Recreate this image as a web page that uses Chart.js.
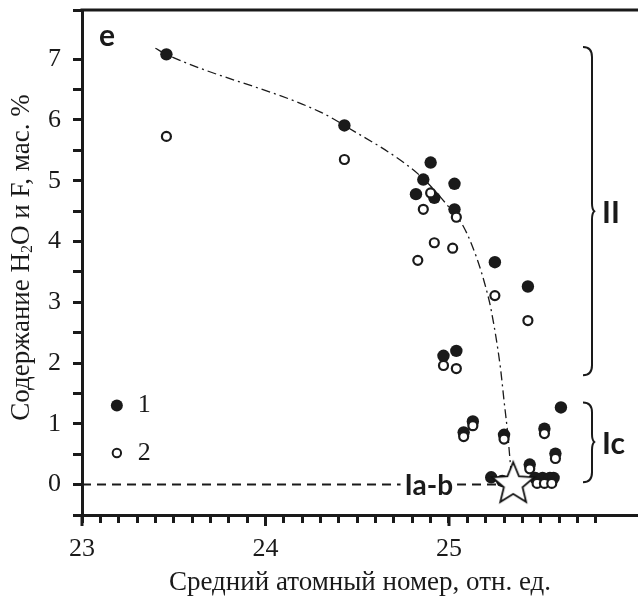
<!DOCTYPE html>
<html>
<head>
<meta charset="utf-8">
<script src="https://cdn.jsdelivr.net/npm/chart.js@4/dist/chart.umd.min.js"></script>
<style>
  html, body { margin: 0; padding: 0; background: #fff; overflow: hidden; }
  #wrap { width: 638px; height: 596px; position: relative; }
</style>
</head>
<body>
<div id="wrap"><canvas id="chart"></canvas></div>
<script>
// --- data ---
const filledX = [23.46, 24.43, 24.90, 24.86, 24.82, 24.92, 25.03, 25.03, 25.25, 25.43, 24.97, 25.04, 25.61, 25.13, 25.08, 25.30, 25.52, 25.58, 25.44, 25.23, 25.29, 25.47, 25.51, 25.55, 25.57];
const filledY = [7.08, 5.91, 5.30, 5.02, 4.78, 4.72, 4.95, 4.53, 3.66, 3.26, 2.12, 2.20, 1.27, 1.04, 0.86, 0.82, 0.92, 0.51, 0.33, 0.12, 0.06, 0.11, 0.11, 0.11, 0.11];

const openX = [23.46, 24.43, 24.90, 24.86, 25.04, 24.92, 25.02, 24.83, 25.25, 25.43, 24.97, 25.04, 25.13, 25.08, 25.30, 25.52, 25.58, 25.44, 25.48, 25.52, 25.56];
const openY = [5.73, 5.35, 4.80, 4.53, 4.40, 3.98, 3.89, 3.69, 3.11, 2.70, 1.96, 1.91, 0.97, 0.79, 0.75, 0.84, 0.43, 0.26, 0.02, 0.02, 0.02];

const trendX = [23.40, 23.46, 24.30, 24.43, 24.84, 24.99, 25.08, 25.15, 25.20, 25.23, 25.28, 25.30, 25.32, 25.34, 25.35];
const trendY = [7.18, 7.08, 6.13, 5.91, 5.09, 4.60, 4.24, 3.74, 3.25, 2.87, 1.93, 1.38, 0.84, 0.18, 0.04];

const zeroX = [23.0, 25.3];
const zeroY = [0, 0];

const starX = [25.35];
const starY = [0.04];

const xMajor = [23, 24, 25];
const yMajor = [0, 1, 2, 3, 4, 5, 6, 7];

const legendItems = [
  { label: '1', y: 1.3, filled: true },
  { label: '2', y: 0.52, filled: false }
];
const legendX = 23.19;

const groups = [
  { label: 'II', top: 7.2, tip: 4.5, bottom: 1.8 },
  { label: 'Ic', top: 1.35, tip: 0.7, bottom: 0.04 }
];

const serif = 'Liberation Serif';
const toPts = (xs, ys) => xs.map((x, i) => ({ x: x, y: ys[i] }));
const isMajor = (v, list) => list.some(m => Math.abs(m - v) < 1e-6);

// white five-pointed star used as the point style
function makeStar() {
  const c = document.createElement('canvas');
  c.width = 50; c.height = 50;
  const g = c.getContext('2d');
  const R = 22, r = 9.8, cx = 25, cy = 27;
  g.beginPath();
  for (let i = 0; i < 10; i++) {
    const rad = i % 2 === 0 ? R : r;
    const a = -Math.PI / 2 + i * Math.PI / 5;
    const px = cx + rad * Math.cos(a), py = cy + rad * Math.sin(a);
    if (i === 0) g.moveTo(px, py); else g.lineTo(px, py);
  }
  g.closePath();
  g.fillStyle = '#fff';
  g.fill();
  g.lineWidth = 1.8;
  g.strokeStyle = '#111';
  g.lineJoin = 'miter';
  g.stroke();
  return c;
}

function brace(ctx, x, yTop, yTip, yBot, w) {
  // "}" shape: ends curl left, tip points right
  ctx.beginPath();
  ctx.moveTo(x - w, yTop);
  ctx.quadraticCurveTo(x, yTop, x, yTop + 10);
  ctx.lineTo(x, yTip - 8);
  ctx.quadraticCurveTo(x, yTip - 2, x + w * 0.25, yTip);
  ctx.quadraticCurveTo(x, yTip + 2, x, yTip + 8);
  ctx.lineTo(x, yBot - 10);
  ctx.quadraticCurveTo(x, yBot, x - w, yBot);
  ctx.stroke();
}

const decor = {
  id: 'decor',
  afterDraw(chart) {
    const ctx = chart.ctx;
    const a = chart.chartArea;
    const xs = chart.scales.x, ys = chart.scales.y;
    ctx.save();
    ctx.fillStyle = '#1a1a1a';
    ctx.strokeStyle = '#1a1a1a';

    // frame line along the top of the plot
    ctx.fillRect(a.left - 1.5, a.top - 1.5, chart.width - a.left + 1.5, 3);

    // longer ticks at the labelled x values
    ctx.lineWidth = 3;
    xMajor.forEach(v => {
      const px = xs.getPixelForValue(v);
      ctx.beginPath();
      ctx.moveTo(px, a.bottom);
      ctx.lineTo(px, a.bottom + 11);
      ctx.stroke();
    });

    // panel letter
    ctx.font = 'bold 30px Lato';
    ctx.textAlign = 'center';
    ctx.textBaseline = 'middle';
    ctx.fillText('e', 107, 36);

    // "Ia-b" label over the dashed zero line
    const lx = xs.getPixelForValue(24.89), ly = ys.getPixelForValue(0);
    ctx.font = 'bold 28px Lato';
    const tw = ctx.measureText('Ia-b').width;
    ctx.fillStyle = '#fff';
    ctx.fillRect(lx - tw / 2 - 4, ly - 14, tw + 8, 28);
    ctx.fillStyle = '#1a1a1a';
    ctx.fillText('Ia-b', lx, ly + 1);

    // braces with group labels
    ctx.lineWidth = 2;
    groups.forEach(gp => {
      const yT = ys.getPixelForValue(gp.top);
      const yM = ys.getPixelForValue(gp.tip);
      const yB = ys.getPixelForValue(gp.bottom);
      brace(ctx, 592, yT, yM, yB, 9);
      ctx.font = 'bold 30px Lato';
      ctx.textAlign = 'left';
      ctx.fillText(gp.label, 602, yM + 2);
    });

    // in-plot legend
    legendItems.forEach(it => {
      const px = xs.getPixelForValue(legendX), py = ys.getPixelForValue(it.y);
      ctx.beginPath();
      if (it.filled) {
        ctx.arc(px, py, 6, 0, Math.PI * 2);
        ctx.fillStyle = '#1a1a1a';
        ctx.fill();
      } else {
        ctx.arc(px, py, 4.2, 0, Math.PI * 2);
        ctx.fillStyle = '#fff';
        ctx.fill();
        ctx.lineWidth = 2;
        ctx.stroke();
      }
      ctx.fillStyle = '#1a1a1a';
      ctx.font = '26px "' + serif + '"';
      ctx.textAlign = 'left';
      ctx.fillText(it.label, px + 21, py);
    });

    // y-axis title with subscript
    ctx.translate(22, (a.top + a.bottom) / 2 - 5);
    ctx.rotate(-Math.PI / 2);
    const parts = [
      { t: 'Содержание H', f: '27px "' + serif + '"', dy: 0 },
      { t: '2', f: '16px "' + serif + '"', dy: 6 },
      { t: 'O и F, мас. %', f: '27px "' + serif + '"', dy: 0 }
    ];
    let total = 0;
    parts.forEach(p => { ctx.font = p.f; p.w = ctx.measureText(p.t).width; total += p.w; });
    let cx = -total / 2;
    ctx.textAlign = 'left';
    parts.forEach(p => {
      ctx.font = p.f;
      ctx.fillText(p.t, cx, p.dy);
      cx += p.w;
    });
    ctx.restore();
  }
};

new Chart(document.getElementById('chart'), {
  type: 'scatter',
  data: {
    datasets: [
      { data: toPts(starX, starY), pointStyle: makeStar(), pointRadius: 20, order: 0 },
      { data: toPts(openX, openY), pointRadius: 4.5, borderWidth: 2.2, borderColor: '#1a1a1a', backgroundColor: '#fff', order: 1 },
      { data: toPts(filledX, filledY), pointRadius: 6.2, borderWidth: 0, backgroundColor: '#1a1a1a', order: 2 },
      { data: toPts(trendX, trendY), showLine: true, pointRadius: 0, borderColor: '#1a1a1a', borderWidth: 1.3,
        borderDash: [9, 4, 2, 4], cubicInterpolationMode: 'monotone', order: 3 },
      { data: toPts(zeroX, zeroY), showLine: true, pointRadius: 0, borderColor: '#1a1a1a', borderWidth: 2,
        borderDash: [9, 6], order: 4 }
    ]
  },
  options: {
    responsive: true,
    maintainAspectRatio: false,
    animation: false,
    events: [],
    layout: { autoPadding: false, padding: { top: 10, right: 0, left: 0, bottom: 0 } },
    plugins: { legend: { display: false }, tooltip: { enabled: false } },
    scales: {
      x: {
        type: 'linear', min: 23, max: 26.03,
        afterFit: s => { s.height = 81; s.paddingLeft = 0; s.paddingRight = 0; },
        afterBuildTicks: s => { s.ticks = s.ticks.filter(t => t.value <= 25.81); },
        border: { display: true, color: '#1a1a1a', width: 3 },
        grid: { drawOnChartArea: false, drawTicks: true, tickLength: 8, tickWidth: 3, tickColor: '#1a1a1a' },
        ticks: {
          stepSize: 0.1, autoSkip: false, maxRotation: 0, padding: 11, color: '#1a1a1a',
          font: { family: serif, size: 26 },
          callback: v => isMajor(v, xMajor) ? String(Math.round(v)) : ''
        },
        title: { display: true, text: 'Средний атомный номер, отн. ед.', color: '#1a1a1a',
          font: { family: serif, size: 27, lineHeight: 1 }, padding: { top: 0, bottom: 0 } }
      },
      y: {
        type: 'linear', min: -0.5, max: 7.81,
        afterFit: s => { s.width = 82; s.paddingTop = 0; s.paddingBottom = 0; },
        border: { display: true, color: '#1a1a1a', width: 3 },
        grid: { drawOnChartArea: false, drawTicks: true, tickLength: 9, tickWidth: 3, tickColor: '#1a1a1a' },
        ticks: {
          stepSize: 0.5, autoSkip: false, padding: 12, color: '#1a1a1a',
          font: { family: serif, size: 26 },
          callback: v => isMajor(v, yMajor) ? String(Math.round(v)) : ''
        }
      }
    }
  },
  plugins: [decor]
});
</script>
</body>
</html>
